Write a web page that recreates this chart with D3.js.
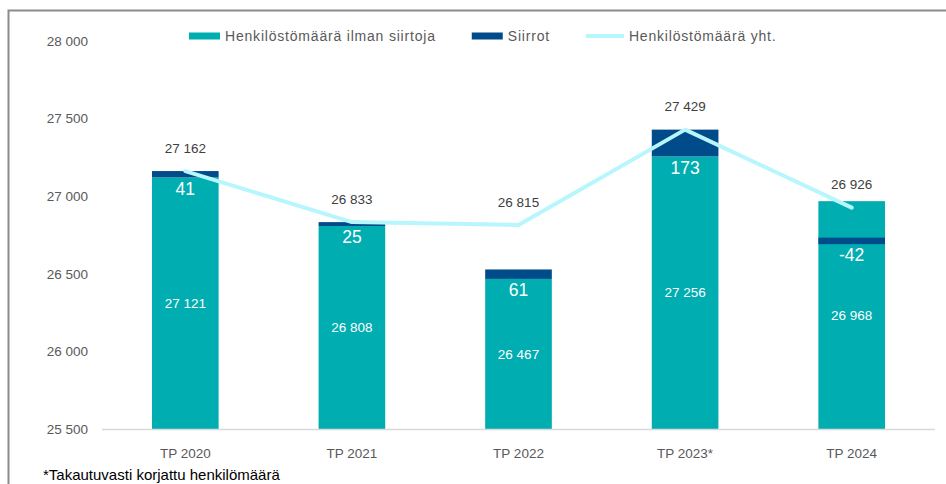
<!DOCTYPE html>
<html>
<head>
<meta charset="utf-8">
<script src="https://cdn.jsdelivr.net/npm/d3@7"></script>
<style>
  html, body { margin: 0; padding: 0; background: #fff; }
  svg { display: block; font-family: "Liberation Sans", Arial, sans-serif; }
</style>
</head>
<body>
<svg id="chart" width="946" height="484"></svg>
<script>
// ---- data ----
const categories = ["TP 2020", "TP 2021", "TP 2022", "TP 2023*", "TP 2024"];
const baseValues = [27121, 26808, 26467, 27256, 26968];      // Henkilöstömäärä ilman siirtoja
const transfers = [41, 25, 61, 173, -42];                    // Siirrot
const totals = [27162, 26833, 26815, 27429, 26926];          // Henkilöstömäärä yht.
// where the reference draws the negative transfer band (its top)
const negativeBandTop = [null, null, null, null, 26733];
const yTicks = [25500, 26000, 26500, 27000, 27500, 28000];
const legendLabels = ["Henkilöstömäärä ilman siirtoja", "Siirrot", "Henkilöstömäärä yht."];
const footnote = "*Takautuvasti korjattu henkilömäärä";

// ---- styles ----
const cTeal = "#00adb0", cDark = "#004b8a", cLine = "#b6f6fc", cText = "#595959";
const fmt = v => d3.format(",")(v).replace(/,/g, " ").replace("\u2212", "-");

const svg = d3.select("#chart");

// frame (only top & left edges visible in reference)
svg.append("path").attr("d", "M8.5,960 L8.5,10.5 L960,10.5")
  .attr("fill", "none").attr("stroke", "#8c8c8c").attr("stroke-width", 2);

const x = d3.scaleBand().domain(categories).range([102, 935]).paddingInner(0.6).paddingOuter(0.3);
const y = d3.scaleLinear().domain([25500, 28000]).range([429, 41]);

// y tick labels
const yAxis = d3.axisLeft(y).tickValues(yTicks).tickSize(0).tickPadding(0).tickFormat(fmt);
const gy = svg.append("g").attr("transform", "translate(88,0)").call(yAxis);
gy.select(".domain").remove();
gy.selectAll("text").attr("fill", cText).attr("font-size", 13.5).attr("font-family", "Liberation Sans, Arial, sans-serif");

// bars
const rows = categories.map((c, i) => ({ c, base: baseValues[i], tr: transfers[i], tot: totals[i], neg: negativeBandTop[i] }));

svg.append("g").selectAll("rect").data(rows).join("rect")
  .attr("x", d => x(d.c)).attr("width", x.bandwidth())
  .attr("y", d => y(d.base)).attr("height", d => y(25500) - y(d.base))
  .attr("fill", cTeal);

function band(d) {
  if (d.tr >= 0) return [d.base, d.base + d.tr];
  return [d.neg + d.tr, d.neg];
}
svg.append("g").selectAll("rect").data(rows).join("rect")
  .attr("x", d => x(d.c)).attr("width", x.bandwidth())
  .attr("y", d => y(band(d)[1])).attr("height", d => y(band(d)[0]) - y(band(d)[1]))
  .attr("fill", cDark);

// x axis baseline
svg.append("line").attr("x1", 102).attr("x2", 935).attr("y1", 429.5).attr("y2", 429.5)
  .attr("stroke", "#d9d9d9").attr("stroke-width", 1.5);

// x tick labels
const xAxis = d3.axisBottom(x).tickSize(0).tickPadding(0);
const gx = svg.append("g").attr("transform", "translate(0,453)").call(xAxis);
gx.select(".domain").remove();
gx.selectAll("text").attr("fill", cText).attr("font-size", 13.5).attr("dy", "0.35em")
  .attr("font-family", "Liberation Sans, Arial, sans-serif");

// base labels (white, centered in teal bar)
svg.append("g").selectAll("text").data(rows).join("text")
  .attr("x", d => x(d.c) + x.bandwidth() / 2)
  .attr("y", d => (y(d.base) + y(25500)) / 2)
  .attr("dy", "0.35em").attr("text-anchor", "middle")
  .attr("fill", "#fff").attr("font-size", 13.5)
  .text(d => fmt(d.base));

// transfer labels (white, just below the dark band)
svg.append("g").selectAll("text").data(rows).join("text")
  .attr("x", d => x(d.c) + x.bandwidth() / 2)
  .attr("y", d => y(band(d)[0]) + 11)
  .attr("dy", "0.35em").attr("text-anchor", "middle")
  .attr("fill", "#fff").attr("font-size", 17.5)
  .text(d => fmt(d.tr));

// total line
const line = d3.line().x(d => x(d.c) + x.bandwidth() / 2).y(d => y(d.tot));
svg.append("path").datum(rows).attr("d", line)
  .attr("fill", "none").attr("stroke", cLine).attr("stroke-width", 4)
  .attr("stroke-linejoin", "round").attr("stroke-linecap", "round");

// total labels
svg.append("g").selectAll("text").data(rows).join("text")
  .attr("x", d => x(d.c) + x.bandwidth() / 2)
  .attr("y", d => y(d.tot) - 23)
  .attr("dy", "0.35em").attr("text-anchor", "middle")
  .attr("fill", "#404040").attr("font-size", 13.5)
  .text(d => fmt(d.tot));

// legend
const lg = svg.append("g");
let lx = 189;
const ly = 36;
legendLabels.forEach((lab, i) => {
  if (i < 2) {
    lg.append("rect").attr("x", lx).attr("y", ly - 3.5).attr("width", 31).attr("height", 7)
      .attr("fill", i === 0 ? cTeal : cDark);
  } else {
    lg.append("line").attr("x1", lx).attr("x2", lx + 38).attr("y1", ly).attr("y2", ly)
      .attr("stroke", cLine).attr("stroke-width", 4);
  }
  const sw = i < 2 ? 31 : 38;
  const t = lg.append("text").attr("x", lx + sw + 5).attr("y", ly).attr("dy", "0.35em")
    .attr("fill", cText).attr("font-size", 14).attr("letter-spacing", 0.8).text(lab);
  lx = lx + sw + 5 + t.node().getComputedTextLength() + 36;
});

// footnote (partly clipped in reference)
svg.append("text").attr("x", 43).attr("y", 480).attr("fill", "#000")
  .attr("font-size", 15).text(footnote);
</script>
</body>
</html>
